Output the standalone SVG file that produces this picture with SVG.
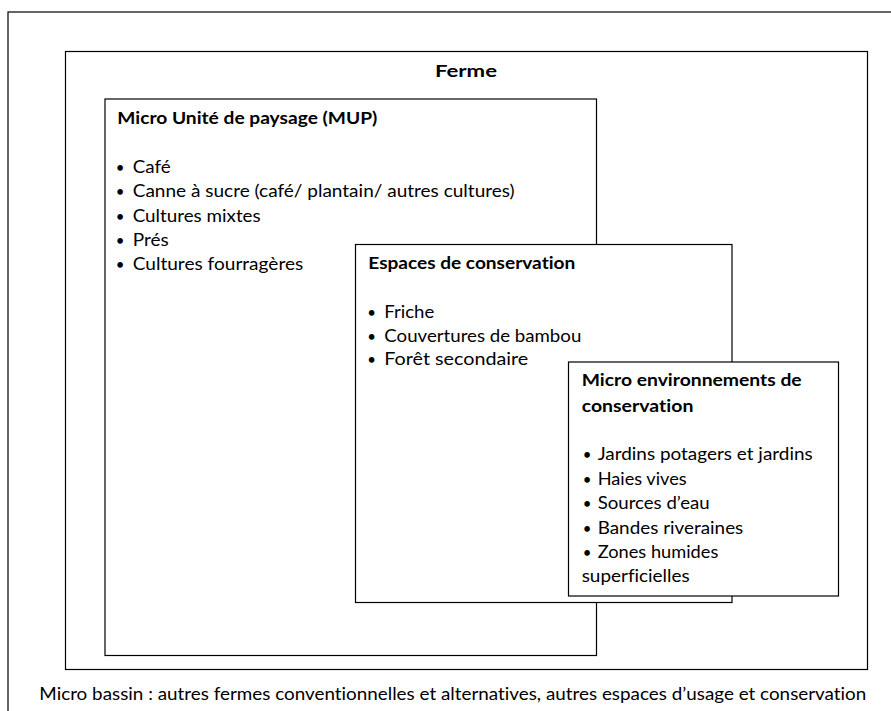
<svg xmlns="http://www.w3.org/2000/svg" width="891" height="711" viewBox="0 0 891 711">
<style>
.box{fill:#fff;stroke:#000;stroke-width:1.2}
text{font-family:Lato,"Open Sans","Liberation Sans",sans-serif;font-size:17px;fill:#000;font-variant-ligatures:none}
.b{font-weight:bold}
.bul{text-anchor:middle;font-size:15px}
</style>
<rect width="891" height="711" fill="#fff"/>
<g id="micro-bassin">
<rect class="box" x="8" y="12" width="900" height="720"/>
<text x="39.3" y="700" textLength="827" lengthAdjust="spacingAndGlyphs">Micro bassin : autres fermes conventionnelles et alternatives, autres espaces d’usage et conservation</text>
</g>
<g id="ferme">
<rect class="box" x="65.5" y="51.5" width="802" height="618"/>
<text class="b" x="435" y="77" font-size="18" textLength="62" lengthAdjust="spacingAndGlyphs">Ferme</text>
</g>
<g id="mup">
<rect class="box" x="105" y="99" width="491.5" height="556.5"/>
<text class="b" x="117.3" y="124" textLength="260" lengthAdjust="spacingAndGlyphs">Micro Unité de paysage (MUP)</text>
<text class="bul" x="120" y="173">•</text><text x="132.7" y="173" textLength="38" lengthAdjust="spacingAndGlyphs">Café</text>
<text class="bul" x="120" y="197.3">•</text><text x="132.7" y="197.3" textLength="382" lengthAdjust="spacingAndGlyphs">Canne à sucre (café/ plantain/ autres cultures)</text>
<text class="bul" x="120" y="221.5">•</text><text x="132.7" y="221.5" textLength="128" lengthAdjust="spacingAndGlyphs">Cultures mixtes</text>
<text class="bul" x="120" y="245.7">•</text><text x="132.7" y="245.7" textLength="36" lengthAdjust="spacingAndGlyphs">Prés</text>
<text class="bul" x="120" y="270">•</text><text x="132.7" y="270" textLength="170.6" lengthAdjust="spacingAndGlyphs">Cultures fourragères</text>
</g>
<g id="espaces">
<rect class="box" x="355.5" y="244.5" width="376.5" height="358"/>
<text class="b" x="368.3" y="268.5" textLength="207" lengthAdjust="spacingAndGlyphs">Espaces de conservation</text>
<text class="bul" x="371.7" y="318.3">•</text><text x="384.3" y="318.3" textLength="50" lengthAdjust="spacingAndGlyphs">Friche</text>
<text class="bul" x="371.7" y="341.7">•</text><text x="384.3" y="341.7" textLength="197" lengthAdjust="spacingAndGlyphs">Couvertures de bambou</text>
<text class="bul" x="371.7" y="365">•</text><text x="384.3" y="365" textLength="144" lengthAdjust="spacingAndGlyphs">Forêt secondaire</text>
</g>
<g id="micro-env">
<rect class="box" x="568.5" y="362" width="270" height="234"/>
<text class="b" x="581.7" y="385.7" textLength="220" lengthAdjust="spacingAndGlyphs">Micro environnements de</text>
<text class="b" x="581.7" y="411.7" textLength="111.7" lengthAdjust="spacingAndGlyphs">conservation</text>
<text class="bul" x="587" y="460">•</text><text x="597.7" y="460" textLength="215" lengthAdjust="spacingAndGlyphs">Jardins potagers et jardins</text>
<text class="bul" x="587" y="485">•</text><text x="597.7" y="485" textLength="89" lengthAdjust="spacingAndGlyphs">Haies vives</text>
<text class="bul" x="587" y="509.3">•</text><text x="597.7" y="509.3" textLength="112" lengthAdjust="spacingAndGlyphs">Sources d’eau</text>
<text class="bul" x="587" y="534">•</text><text x="597.7" y="534" textLength="145.6" lengthAdjust="spacingAndGlyphs">Bandes riveraines</text>
<text class="bul" x="587" y="558.3">•</text><text x="597.7" y="558.3" textLength="120.6" lengthAdjust="spacingAndGlyphs">Zones humides</text>
<text x="581.7" y="582" textLength="108" lengthAdjust="spacingAndGlyphs">superficielles</text>
</g>
</svg>
